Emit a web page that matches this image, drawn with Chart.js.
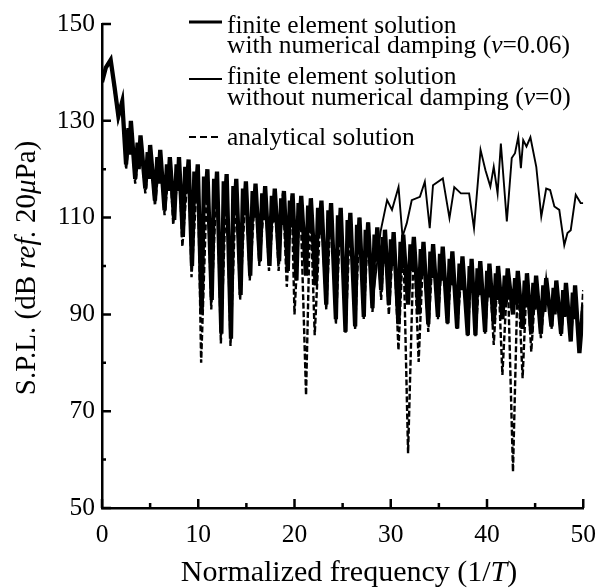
<!DOCTYPE html>
<html>
<head>
<meta charset="utf-8">
<script src="https://cdn.jsdelivr.net/npm/chart.js@4.4.0/dist/chart.umd.min.js"></script>
<style>
body { margin: 0; background: #fff; }
#wrap { width: 608px; height: 588px; }
</style>
</head>
<body>
<div id="wrap"><canvas id="splchart"></canvas></div>
<script>
// values: normalized frequency (1/T) vs S.P.L. (dB)
var dampedFreq = [0, 0.4, 0.9, 1.3, 1.7, 2.1,
    2.5, 2.75, 2.86, 3.0, 3.45, 3.7, 3.81, 4.0,
    4.5, 4.75, 4.86, 5.0, 5.5, 5.75, 5.86, 6.05,
    6.5, 6.75, 6.86, 7.05, 7.5, 7.75, 7.86, 8.0,
    8.4, 8.65, 8.76, 9.0, 9.35, 9.6, 9.71, 9.95,
    10.35, 10.6, 10.71, 10.95, 11.4, 11.65, 11.76, 11.95,
    12.4, 12.65, 12.76, 12.95, 13.4, 13.65, 13.76, 13.95,
    14.4, 14.65, 14.76, 14.95, 15.4, 15.65, 15.76, 15.95,
    16.4, 16.65, 16.76, 16.95, 17.4, 17.65, 17.76, 17.95,
    18.4, 18.62, 18.72, 18.9, 19.3, 19.52, 19.62, 19.8,
    20.2, 20.42, 20.52, 20.7, 21.2, 21.42, 21.52, 21.7,
    22.2, 22.45, 22.56, 22.8, 23.3, 23.52, 23.62, 23.8,
    24.3, 24.52, 24.62, 24.8, 25.3, 25.52, 25.62, 25.8,
    26.3, 26.5, 26.6, 26.75, 27.2, 27.4, 27.5, 27.65,
    28.1, 28.32, 28.42, 28.6, 29.0, 29.2, 29.28, 29.4,
    29.8, 30.02, 30.12, 30.3, 30.8, 31.02, 31.12, 31.3,
    31.8, 32.05, 32.16, 32.4, 32.9, 33.12, 33.22, 33.4,
    33.9, 34.12, 34.22, 34.4, 34.9, 35.12, 35.22, 35.4,
    35.9, 36.12, 36.22, 36.4, 36.9, 37.15, 37.26, 37.45,
    38.0, 38.2, 38.28, 38.4, 38.8, 39.02, 39.12, 39.3,
    39.8, 40.02, 40.12, 40.25, 40.7, 40.92, 41.02, 41.15,
    41.6, 41.85, 41.96, 42.15, 42.7, 42.92, 43.02, 43.2,
    43.7, 43.92, 44.02, 44.15, 44.6, 44.82, 44.92, 45.1,
    45.6, 45.85, 45.96, 46.15, 46.7, 46.92, 47.02, 47.2,
    47.7, 47.92, 48.02, 48.2, 48.7, 48.92, 49.02, 49.15,
    49.6, 50];
var dampedSpl = [138, 141, 142.6, 137, 131, 134,
    121, 128.5, 123, 130, 118, 125.5, 120, 127,
    116, 123.5, 118, 125, 113.5, 122.5, 117, 124,
    111.5, 121, 115.5, 122.5, 109.5, 121, 115.5, 122.5,
    106, 120.5, 115, 122, 100, 119.5, 114, 121,
    90, 118.5, 113, 120, 93, 118, 112.5, 119.5,
    86, 117.5, 112, 119, 85, 116.5, 111, 118,
    94, 116, 110.5, 117.5, 98, 115.5, 110, 117,
    101, 115, 109.5, 116.5, 100, 114.5, 109, 116,
    101, 114, 108.5, 115.5, 99, 113.5, 108, 115,
    97, 113, 107.5, 114.5, 98, 112.5, 107, 114,
    96, 112, 106.5, 113.5, 92, 111.5, 106, 113,
    89, 110.5, 105, 112, 86.4, 109.5, 104, 111,
    87.5, 108.5, 103, 110, 89.5, 107.5, 102, 109,
    91.3, 106.5, 101, 108, 95, 106, 100.5, 107.5,
    92, 105.5, 100, 107, 88, 105, 99.5, 106.5,
    92, 104.5, 99, 106, 90, 103.5, 98, 105,
    88, 103, 97.5, 104.5, 89.5, 102.5, 97, 104,
    88.2, 101.5, 96, 103, 87.1, 100.5, 95, 102,
    85.7, 100, 94.5, 101.5, 85.7, 99.5, 94, 101,
    86.4, 99, 93.5, 100.5, 88, 98.5, 93, 100,
    89, 98, 92.5, 99.5, 90, 97.5, 92, 99,
    87, 97, 91.5, 98.5, 86, 96.5, 91, 98,
    86, 96, 90.5, 97.5, 87.5, 95.5, 90, 97,
    86, 95, 89.5, 96.5, 84.4, 94.5, 89, 96,
    82, 92];

var undampedFreq = [26.75, 27.2, 27.65, 28.1, 28.94, 29.62, 30.13, 30.81, 31.22, 31.66, 32.18, 33.03, 33.54, 34.05, 34.39,
    35.41, 36.1, 36.6, 37.29, 38.14, 38.65, 39.33, 39.84, 40.35, 40.7, 41.1, 41.44, 42.06, 42.57, 42.91, 43.25, 43.52,
    43.76, 44.1, 44.51, 45.12, 45.64, 46.15, 46.56, 47.0, 47.51, 48.03, 48.36, 48.7, 49.22, 49.73, 50];
var undampedSpl = [110, 90, 109, 92, 107.1, 113.6, 111.6, 116.3, 106.1, 108.8, 113.6, 114.3, 117.4, 107.8, 116.7,
    118.1, 109.9, 116.3, 115.0, 115.0, 107.8, 124.0, 119.8, 116.4, 120.5, 115.0, 125.3, 109.2, 122.3, 123.3, 126.7, 120.2,
    126.0, 124.7, 126.6, 120.5, 110.2, 116.0, 115.7, 112.3, 111.6, 104.3, 106.8, 107.4, 114.7, 113.0, 113.0];

var analyticFreq = [0, 0.4, 0.9, 1.3, 1.7, 2.1, 2.5, 3.0, 3.45, 4.0, 4.5, 5.0, 5.5, 6.05, 6.5, 7.05, 7.4, 8.0, 8.35, 9.0,
    9.3, 9.95, 10.3, 10.95, 11.35, 11.95, 12.35, 12.95, 13.35, 13.95, 14.35, 14.95, 15.35, 15.95, 16.35, 16.95, 17.35, 17.95,
    18.35, 18.8, 19.2, 19.7, 20.0, 20.6, 21.2, 21.65, 22.1, 22.75, 23.3, 23.8, 24.3, 24.8, 25.3, 25.8, 26.3, 26.75, 27.2,
    27.65, 28.1, 28.6, 29.0, 29.4, 29.8, 30.3, 30.8, 31.3, 31.8, 32.4, 32.9, 33.4, 33.9, 34.4, 34.9, 35.4, 35.9, 36.4,
    36.9, 37.45, 38.0, 38.4, 38.8, 39.3, 39.8, 40.25, 40.7, 41.15, 41.6, 42.15, 42.7, 43.2, 43.7, 44.15, 44.6, 45.1,
    45.6, 46.15, 46.7, 47.2, 47.7, 48.2, 48.7, 49.15, 49.6, 50.0];
var analyticSpl = [138, 141, 142.3, 136.5, 130.5, 133.5, 120, 129.5, 117, 126.5, 115, 124.5, 112.5, 123.5, 110.5, 122, 108.5, 122, 104, 121.5,
    97.7, 120.5, 80, 119.5, 91, 119, 84, 118.5, 83.5, 117.5, 93, 117, 97, 116.5, 100, 116, 99, 115.5,
    99, 115, 95.7, 114.5, 90, 114, 73.3, 113.5, 85.7, 113, 91, 112.5, 88, 111.5, 86, 110.5, 87, 109.5, 89,
    108.5, 90.5, 107.5, 93, 107, 89.9, 106.5, 82.6, 106, 61.3, 105.5, 80.2, 104.5, 86.4, 104, 89, 103.5, 88, 102.5,
    87, 101.5, 85.5, 101, 85.5, 100.5, 86, 100, 83.7, 99.5, 77.5, 99, 57.5, 98.5, 76.8, 98, 82.3, 97.5,
    85.1, 97, 87, 96.5, 85.5, 96, 84.5, 96, 83, 95];

var xTicks = [0, 10, 20, 30, 40, 50];
var xMinorTicks = [5, 15, 25, 35, 45];
var yTicks = [50, 70, 90, 110, 130, 150];
var yMinorTicks = [60, 80, 100, 120, 140];

var serif = "'Liberation Serif', 'Times New Roman', serif";

var legendItems = [
    { kind: 'thick', lines: [[{ t: 'finite element solution' }], [{ t: 'with numerical damping (' }, { t: 'ν', i: true }, { t: '=0.06)' }]] },
    { kind: 'thin', lines: [[{ t: 'finite element solution' }], [{ t: 'without numerical damping (' }, { t: 'ν', i: true }, { t: '=0)' }]] },
    { kind: 'dash', lines: [[{ t: 'analytical solution' }]] }
];

function toPoints(xs, ys) {
    var pts = [];
    for (var i = 0; i < xs.length; i++) pts.push({ x: xs[i], y: ys[i] });
    return pts;
}

function drawRuns(ctx, runs, x, y, size, align) {
    var widths = [], total = 0;
    runs.forEach(function (r) {
        ctx.font = (r.i ? 'italic ' : '') + size + 'px ' + serif;
        var w = ctx.measureText(r.t).width;
        widths.push(w);
        total += w;
    });
    var cx = align === 'center' ? x - total / 2 : x;
    ctx.textAlign = 'left';
    ctx.textBaseline = 'alphabetic';
    runs.forEach(function (r, k) {
        ctx.font = (r.i ? 'italic ' : '') + size + 'px ' + serif;
        ctx.fillText(r.t, cx, y);
        cx += widths[k];
    });
}

// inward tick marks, axis titles and the legend box
var decorations = {
    id: 'decorations',
    afterDraw: function (chart) {
        var ctx = chart.ctx, xs = chart.scales.x, ys = chart.scales.y;
        var area = chart.chartArea;
        ctx.save();
        ctx.strokeStyle = '#000';
        ctx.fillStyle = '#000';
        ctx.lineWidth = 2.5;
        ctx.beginPath();
        xTicks.forEach(function (v) { var px = xs.getPixelForValue(v); ctx.moveTo(px, area.bottom); ctx.lineTo(px, area.bottom - 9); });
        xMinorTicks.forEach(function (v) { var px = xs.getPixelForValue(v); ctx.moveTo(px, area.bottom); ctx.lineTo(px, area.bottom - 5); });
        yTicks.forEach(function (v) { var py = ys.getPixelForValue(v); ctx.moveTo(area.left, py); ctx.lineTo(area.left + 9, py); });
        yMinorTicks.forEach(function (v) { var py = ys.getPixelForValue(v); ctx.moveTo(area.left, py); ctx.lineTo(area.left + 4, py); });
        ctx.stroke();

        // axis titles
        drawRuns(ctx, [{ t: 'Normalized frequency (1/' }, { t: 'T', i: true }, { t: ')' }], 349, 581, 30, 'center');
        ctx.save();
        ctx.translate(35, 268);
        ctx.rotate(-Math.PI / 2);
        drawRuns(ctx, [{ t: 'S.P.L. (dB ' }, { t: 'ref.', i: true }, { t: ' 20' }, { t: 'μ', i: true }, { t: 'Pa)' }], 0, 0, 29, 'center');
        ctx.restore();

        // legend
        var baselines = [[33, 53], [84, 105], [145]];
        var sampleY = [22, 79, 137];
        legendItems.forEach(function (item, k) {
            ctx.beginPath();
            ctx.setLineDash(item.kind === 'dash' ? [7, 4] : []);
            ctx.lineWidth = item.kind === 'thick' ? 3.2 : (item.kind === 'thin' ? 1.8 : 2.2);
            ctx.moveTo(189, sampleY[k]);
            ctx.lineTo(222, sampleY[k]);
            ctx.stroke();
            ctx.setLineDash([]);
            item.lines.forEach(function (runs, j) {
                drawRuns(ctx, runs, 227, baselines[k][j], 25.5, 'left');
            });
        });
        ctx.restore();
    }
};

Chart.defaults.font.family = serif;
Chart.defaults.color = '#000';

new Chart(document.getElementById('splchart').getContext('2d'), {
    type: 'line',
    data: {
        datasets: [
            {
                label: 'finite element solution without numerical damping (v=0)',
                data: toPoints(undampedFreq, undampedSpl),
                borderColor: '#000',
                borderWidth: 1.9
            },
            {
                label: 'finite element solution with numerical damping (v=0.06)',
                data: toPoints(dampedFreq, dampedSpl),
                borderColor: '#000',
                borderWidth: 4.3
            },
            {
                label: 'analytical solution',
                data: toPoints(analyticFreq, analyticSpl),
                borderColor: '#000',
                borderWidth: 2.4,
                borderDash: [6, 2.5]
            }
        ]
    },
    options: {
        responsive: true,
        maintainAspectRatio: false,
        animation: false,
        events: [],
        layout: { padding: { top: 24, right: 17, left: 0, bottom: 0 } },
        elements: { point: { radius: 0 }, line: { tension: 0, borderJoinStyle: 'miter' } },
        plugins: { legend: { display: false }, tooltip: { enabled: false } },
        scales: {
            x: {
                type: 'linear',
                min: 0,
                max: 50,
                afterBuildTicks: function (s) { s.ticks = xTicks.map(function (v) { return { value: v }; }); },
                afterFit: function (s) { s.height = 80; },
                grid: { display: false, drawTicks: false },
                border: { display: true, color: '#000', width: 2.5 },
                ticks: { font: { size: 25.5 }, padding: 12, maxRotation: 0, autoSkip: false }
            },
            y: {
                type: 'linear',
                min: 50,
                max: 150,
                afterBuildTicks: function (s) { s.ticks = yTicks.map(function (v) { return { value: v }; }); },
                afterFit: function (s) { s.width = 102; },
                grid: { display: false, drawTicks: false },
                border: { display: true, color: '#000', width: 2.5 },
                ticks: { font: { size: 25.5 }, padding: 7 }
            }
        }
    },
    plugins: [decorations]
});
</script>
</body>
</html>
